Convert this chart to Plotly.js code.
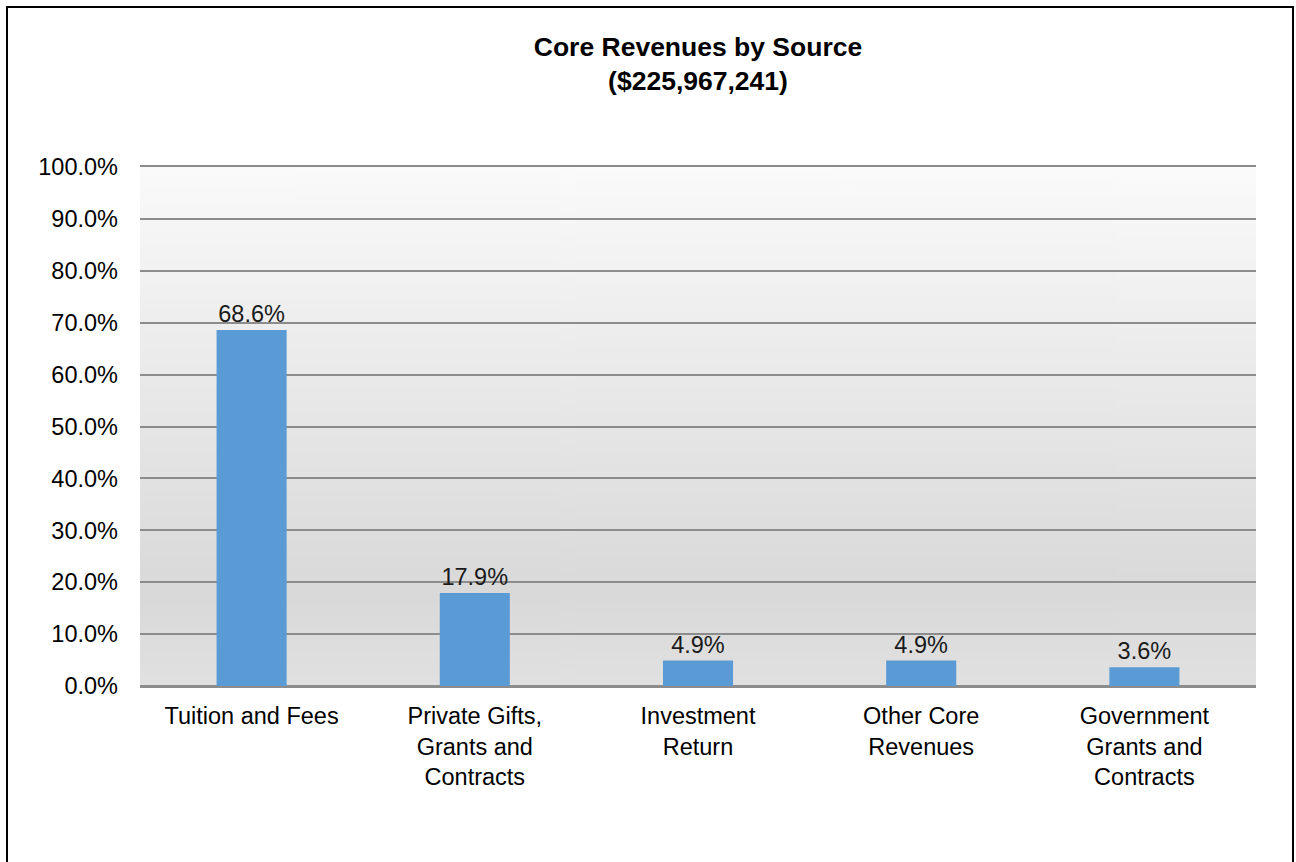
<!DOCTYPE html>
<html>
<head>
<meta charset="utf-8">
<script src="https://cdn.plot.ly/plotly-3.0.1.min.js"></script>
<style>
  html, body { margin: 0; padding: 0; background: #ffffff; overflow: hidden; }
  #chart { width: 1296px; height: 862px; }
</style>
</head>
<body>
<div id="chart"></div>
<script>
const categories = [
  "Tuition and Fees",
  "Private Gifts,<br>Grants and<br>Contracts",
  "Investment<br>Return",
  "Other Core<br>Revenues",
  "Government<br>Grants and<br>Contracts"
];
const shares = [68.6, 17.9, 4.9, 4.9, 3.6];
const titleText = "<b>Core Revenues by Source</b><br><b>($225,967,241)</b>";

function gradientURI() {
  const c = document.createElement('canvas');
  c.width = 4; c.height = 520;
  const g = c.getContext('2d');
  const grd = g.createLinearGradient(0, 0, 0, 520);
  grd.addColorStop(0, '#fafafa');
  grd.addColorStop(0.82, '#d9d9d9');
  grd.addColorStop(1, '#e1e1e1');
  g.fillStyle = grd;
  g.fillRect(0, 0, 4, 520);
  return c.toDataURL('image/png');
}

const W = 1296, H = 862;
const m = {l: 140, r: 40, t: 167, b: 176};
const pw = W - m.l - m.r, ph = H - m.t - m.b;
const px = v => (v - m.l) / pw;
const py = v => (H - m.b - v) / ph;
const FONT = 'Liberation Sans, Arial, sans-serif';

const trace = {
  type: 'bar',
  x: categories,
  y: shares,
  marker: {color: '#5b9bd5'},
  text: shares.map(v => v.toFixed(1) + '%'),
  textposition: 'outside',
  cliponaxis: false,
  textfont: {family: FONT, size: 23.5, color: '#1a1a1a'},
  hoverinfo: 'skip'
};

const layout = {
  width: W, height: H,
  margin: m,
  paper_bgcolor: '#ffffff',
  plot_bgcolor: 'rgba(0,0,0,0)',
  bargap: 0.686,
  showlegend: false,
  font: {family: FONT, size: 23.5, color: '#000000'},
  title: {
    text: titleText,
    x: 0.5, xref: 'paper', xanchor: 'center',
    y: 1 - 56 / H, yref: 'container', yanchor: 'middle',
    font: {family: FONT, size: 26.5, color: '#000000'}
  },
  xaxis: {
    type: 'category',
    showgrid: false,
    showline: true,
    mirror: true,
    linecolor: '#8c8c8c',
    linewidth: 2,
    zeroline: false,
    ticks: '',
    tickfont: {size: 23.5, color: '#000000'},
    ticklabelstandoff: 8
  },
  yaxis: {
    range: [0, 100],
    dtick: 10,
    tick0: 0,
    tickformat: '.1f',
    ticksuffix: '%',
    showgrid: true,
    gridcolor: '#8c8c8c',
    gridwidth: 2,
    zeroline: true,
    zerolinecolor: '#8c8c8c',
    zerolinewidth: 2,
    showline: false,
    ticks: '',
    ticklabelstandoff: 21,
    tickfont: {size: 23.5, color: '#000000'}
  },
  images: [{
    source: gradientURI(),
    xref: 'paper', yref: 'paper',
    x: 0, y: 1, sizex: 1, sizey: 1,
    xanchor: 'left', yanchor: 'top',
    sizing: 'stretch', layer: 'below'
  }],
  shapes: [{
    type: 'rect', xref: 'paper', yref: 'paper',
    x0: px(7), x1: px(1293), y0: py(880), y1: py(7),
    line: {color: '#000000', width: 2},
    fillcolor: 'rgba(0,0,0,0)', layer: 'above'
  }]
};

Plotly.newPlot('chart', [trace], layout, {displayModeBar: false, staticPlot: true});
</script>
</body>
</html>
